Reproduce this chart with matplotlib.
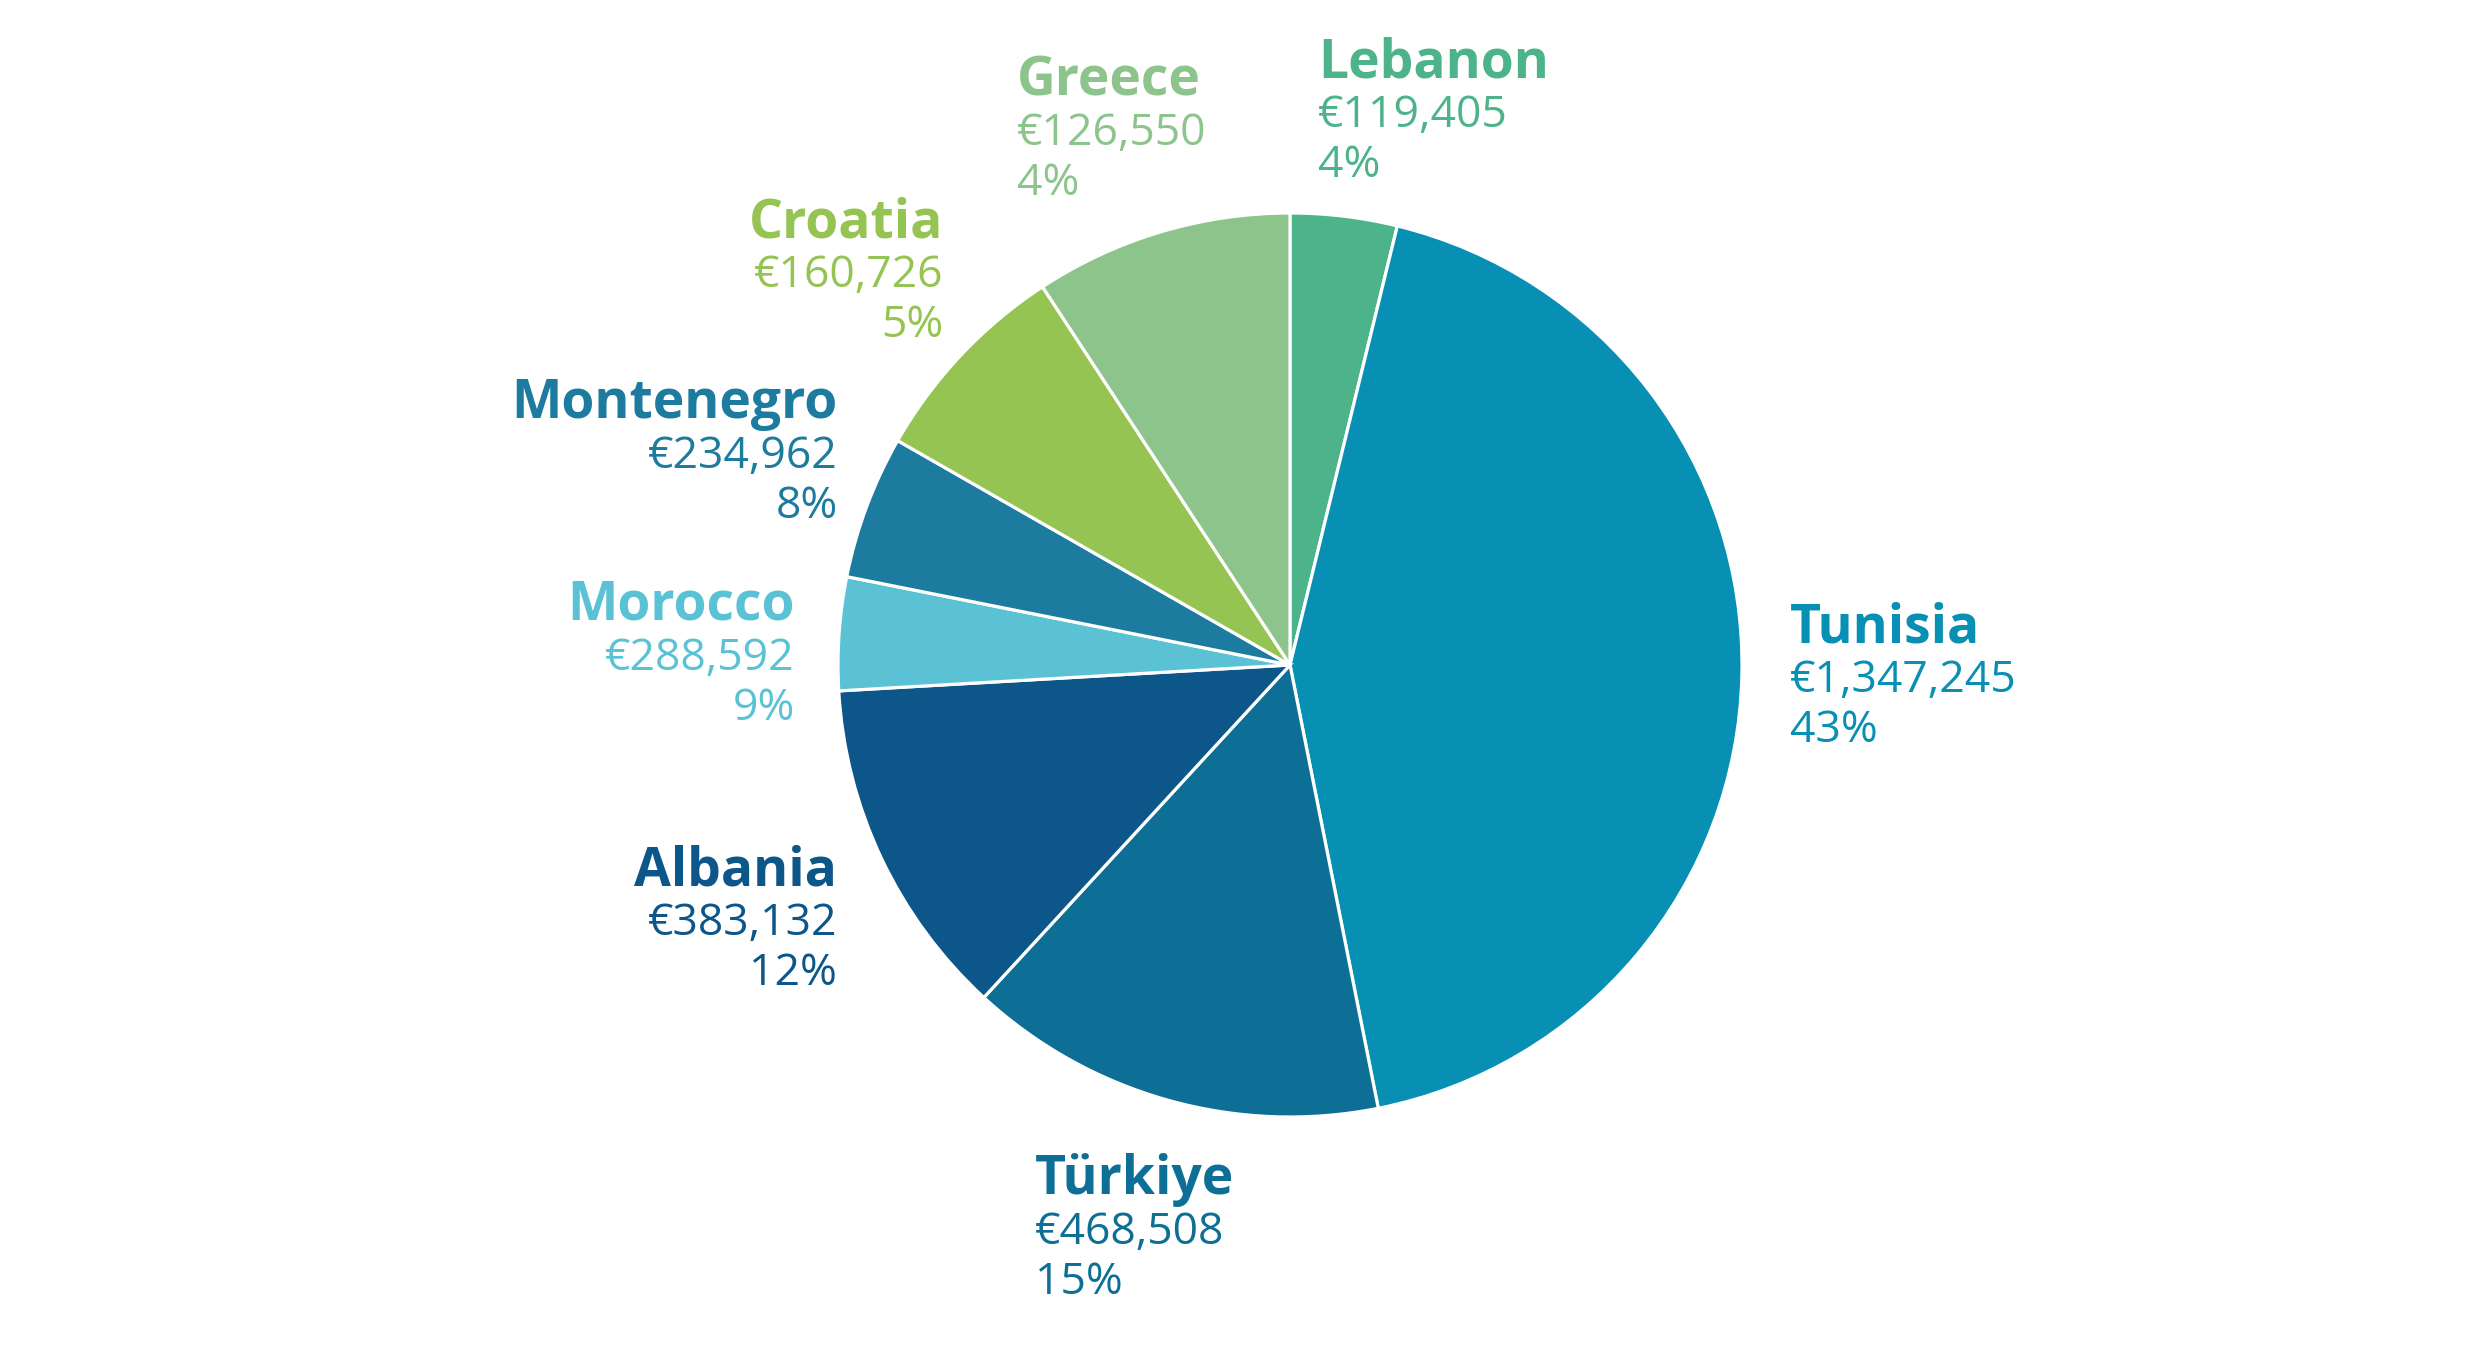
import numpy as np
import matplotlib
matplotlib.use("Agg")
import matplotlib.pyplot as plt

plt.rcParams['font.family'] = ['Open Sans', 'DejaVu Sans']

# data, in the order the labels go round the pie (clockwise from the top)
countries = ['Lebanon', 'Tunisia', 'Türkiye', 'Albania',
             'Morocco', 'Montenegro', 'Croatia', 'Greece']
amounts = [119405, 1347245, 468508, 383132, 288592, 234962, 160726, 126550]
colors = ['#4DB38A', '#078FB4', '#0E6F96', '#0D568A',
          '#5BC2D6', '#1C7B9E', '#95C453', '#8DC48C']

# the source chart draws the last four slices in reverse order of their labels
slice_amounts = amounts[:4] + amounts[4:][::-1]

total = sum(amounts)
pcts = [round(a / total * 100) for a in amounts]

# label anchors in pixels (x, first baseline y from top, alignment)
W, H = 2480, 1369
label_pos = {
    'Lebanon':    (1318, 77, 'left'),
    'Tunisia':    (1790, 642, 'left'),
    'Türkiye':    (1035, 1194, 'left'),
    'Albania':    (837, 885, 'right'),
    'Morocco':    (795, 620, 'right'),
    'Montenegro': (838, 418, 'right'),
    'Croatia':    (943, 237, 'right'),
    'Greece':     (1017, 95, 'left'),
}
line_gap = 50

fig = plt.figure(figsize=(W / 100, H / 100), dpi=100)
fig.patch.set_facecolor('white')

cx, cy, r = 1290, 665, 452
ax = fig.add_axes([(cx - r) / W, (H - cy - r) / H, 2 * r / W, 2 * r / H])
ax.pie(slice_amounts, colors=colors, startangle=90, counterclock=False,
       radius=1, wedgeprops=dict(edgecolor='white', linewidth=2.3))
ax.set_xlim(-1, 1)
ax.set_ylim(-1, 1)
ax.axis('off')

for name, amt, pct, col in zip(countries, amounts, pcts, colors):
    x, y, ha = label_pos[name]
    fig.text(x / W, 1 - y / H, name, color=col, ha=ha, va='baseline',
             fontsize=38.5, fontweight='bold')
    fig.text(x / W, 1 - (y + line_gap) / H, '€{:,}'.format(amt), color=col,
             ha=ha, va='baseline', fontsize=32)
    fig.text(x / W, 1 - (y + 2 * line_gap) / H, '{}%'.format(pct), color=col,
             ha=ha, va='baseline', fontsize=32)

fig.savefig('out.png', dpi=100, facecolor='white')
